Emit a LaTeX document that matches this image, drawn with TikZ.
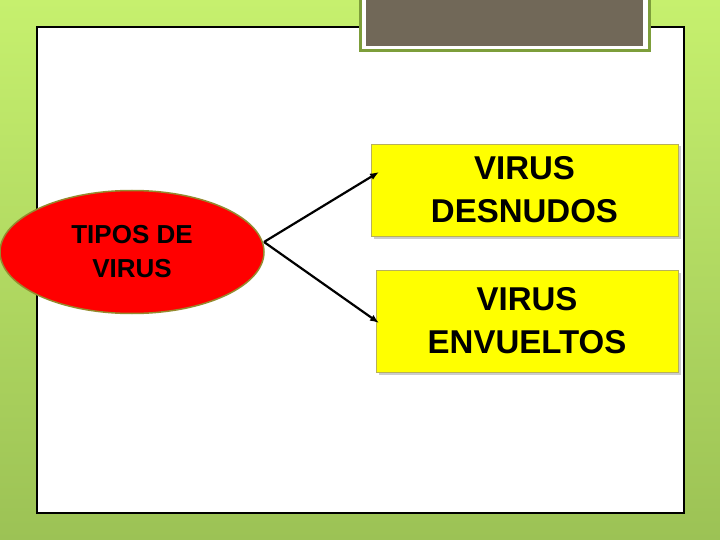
\documentclass[tikz,border=0pt]{standalone}
\usepackage{fontspec}
\setmainfont{Liberation Sans}
\usetikzlibrary{shadows, shapes.geometric, arrows.meta}
\definecolor{bgtop}{HTML}{C6F06E}
\definecolor{bgbot}{HTML}{9CC255}
\definecolor{frame green}{HTML}{7D9E3A}
\definecolor{title fill}{HTML}{716858}
\definecolor{oval line}{HTML}{958A2E}
\definecolor{box line}{HTML}{B8B05A}
\definecolor{box yellow}{HTML}{FFFF00}
\definecolor{oval red}{HTML}{FF0000}
\tikzstyle{red oval}=[
        draw = oval line,
        line width = 1.5pt,
        fill = oval red,
        ellipse,
        minimum width = 264pt,
        minimum height = 123pt,
        align = center,
        font = \fontsize{26}{34}\selectfont\bfseries
    ]
\tikzstyle{yellow box}=[
        draw = box line,
        line width = 0.8pt,
        fill = box yellow,
        minimum height = 92pt,
        align = center,
        font = \fontsize{33}{43}\selectfont\bfseries,
        drop shadow = {opacity = 0.4, shadow xshift = 2.5pt, shadow yshift = -2.5pt}
    ]

\begin{document}
\begin{tikzpicture}[x=1pt, y=-1pt, >={Latex[length=9pt, width=7pt]}]
        % slide background
        \shade[top color=bgtop, bottom color=bgbot] (0,0) rectangle (720,540);
        \useasboundingbox (0,0) rectangle (720,540);
        \draw[black, line width=1.2pt, fill=white] (37,27) rectangle (684,513);

        % title placeholder
        \draw[frame green, line width=3pt, fill=white] (360,-5) rectangle (649,51);
        \fill[title fill] (366,-5) rectangle (643,46);

        \node[red oval] (T) at (132,252) {TIPOS DE\\VIRUS};
        \node[yellow box, minimum width=307pt] (D) at (524.5,190) {VIRUS\\DESNUDOS};
        \node[yellow box, minimum width=302pt, minimum height=102pt] (E) at (527,321) {VIRUS\\ENVUELTOS};

        \coordinate (fork) at (264,242);
        \coordinate (d in) at (379,172);
        \coordinate (e in) at (379,323);

        \draw[->, line width=2.2pt] (fork) -- (d in);
        \draw[->, line width=2.2pt] (fork) -- (e in);
    \end{tikzpicture}
\end{document}
